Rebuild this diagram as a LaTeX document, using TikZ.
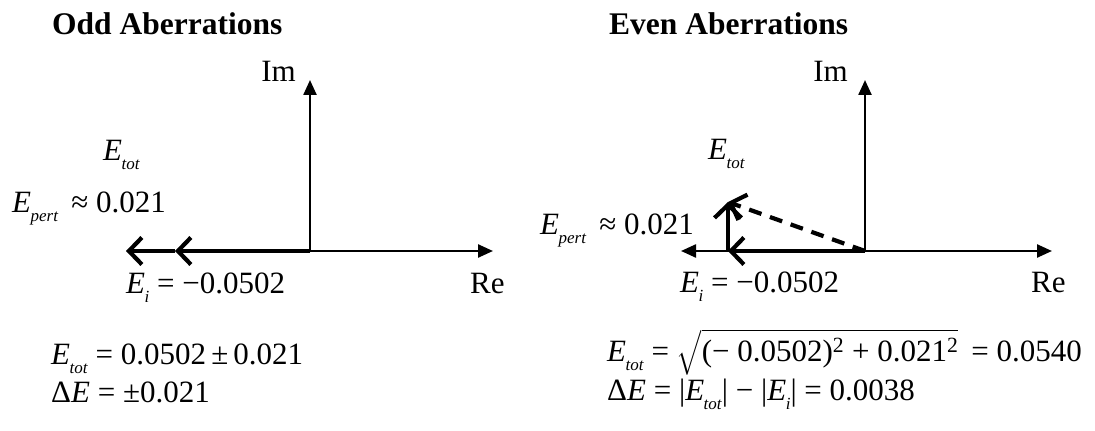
\documentclass[tikz,border=0pt]{standalone}
\usepackage{amsmath}
\usepackage{fontspec}
\setmainfont{Liberation Serif}
\usetikzlibrary{arrows.meta}
\newcommand{\Ev}[1]{\textit{E}\kern-0.5pt\raisebox{-0.28em}{\fontsize{17}{17}\selectfont\textit{#1}}}
\tikzset{
  txt/.style={inner sep=0pt, font=\fontsize{31}{37}\selectfont},
  ttl/.style={inner sep=0pt, font=\fontsize{31.5}{37}\selectfont\bfseries},
  axisline/.style={line width=2.4pt, -{Triangle[length=15pt,width=13pt]}},
  axisboth/.style={line width=2.4pt, {Triangle[length=15pt,width=13pt]}-{Triangle[length=15pt,width=13pt]}},
  vec/.style={line width=4.2pt, -{Straight Barb[length=13pt,width=27pt]}},
  res/.style={vec, dash pattern=on 13pt off 9pt},
}
\begin{document}
\begin{tikzpicture}[x=1pt,y=1pt]
\useasboundingbox (0,0) rectangle (1095,431);
% ---------- left panel ----------
\coordinate (O1) at (310,180);
\coordinate (I1) at (310,351);
\coordinate (R1) at (493,180);
\coordinate (A1) at (175,180);
\coordinate (P1) at (126,180);
\draw[axisline] (O1) -- (I1);
\draw[axisline] (O1) -- (R1);
\draw[vec] (O1) -- (A1);
\draw[vec] (A1) -- (P1);
\node[ttl, anchor=base west] (t1) at (52,396) {Odd Aberrations};
\node[txt, anchor=base east] (im1) at (296,349) {Im};
\node[txt, anchor=base west] (et1) at (103,270) {\Ev{tot}};
\node[txt, anchor=base west] (ep1) at (12,218) {\Ev{pert} \,≈ 0.021};
\node[txt, anchor=base west] (ei1) at (126,137) {\Ev{i} = −0.0502};
\node[txt, anchor=base west] (re1) at (470,137) {Re};
\node[txt, anchor=base west] (f1) at (51,66) {\Ev{tot} = 0.0502\,±\,0.021};
\node[txt, anchor=base west] (g1) at (51,28) {Δ\textit{E} = ±0.021};
% ---------- right panel ----------
\coordinate (O2) at (865,180);
\coordinate (I2) at (865,351);
\coordinate (R2) at (1052,180);
\coordinate (L2) at (681,180);
\coordinate (A2) at (728,180);
\coordinate (P2) at (728,229);
\draw[axisline] (O2) -- (I2);
\draw[axisboth] (L2) -- (R2);
\draw[vec] (O2) -- (A2);
\draw[vec] (A2) -- (P2);
\draw[res] (O2) -- (P2);
\node[ttl, anchor=base west] (t2) at (609,396) {Even Aberrations};
\node[txt, anchor=base east] (im2) at (848,349) {Im};
\node[txt, anchor=base west] (et2) at (708,271) {\Ev{tot}};
\node[txt, anchor=base east] (ep2) at (694,196) {\Ev{pert} \,≈ 0.021};
\node[txt, anchor=base west] (ei2) at (680,138) {\Ev{i} = −0.0502};
\node[txt, anchor=base west] (re2) at (1031,138) {Re};
\node[txt, anchor=base west] (f2) at (607,69) {\Ev{tot} = $\sqrt{\hbox{(− 0.0502)\textsuperscript{2} + 0.021\textsuperscript{2}}}$ \,= 0.0540};
\node[txt, anchor=base west] (g2) at (607,30) {Δ\textit{E} = |\Ev{tot}| − |\Ev{i}| = 0.0038};
\end{tikzpicture}
\end{document}
